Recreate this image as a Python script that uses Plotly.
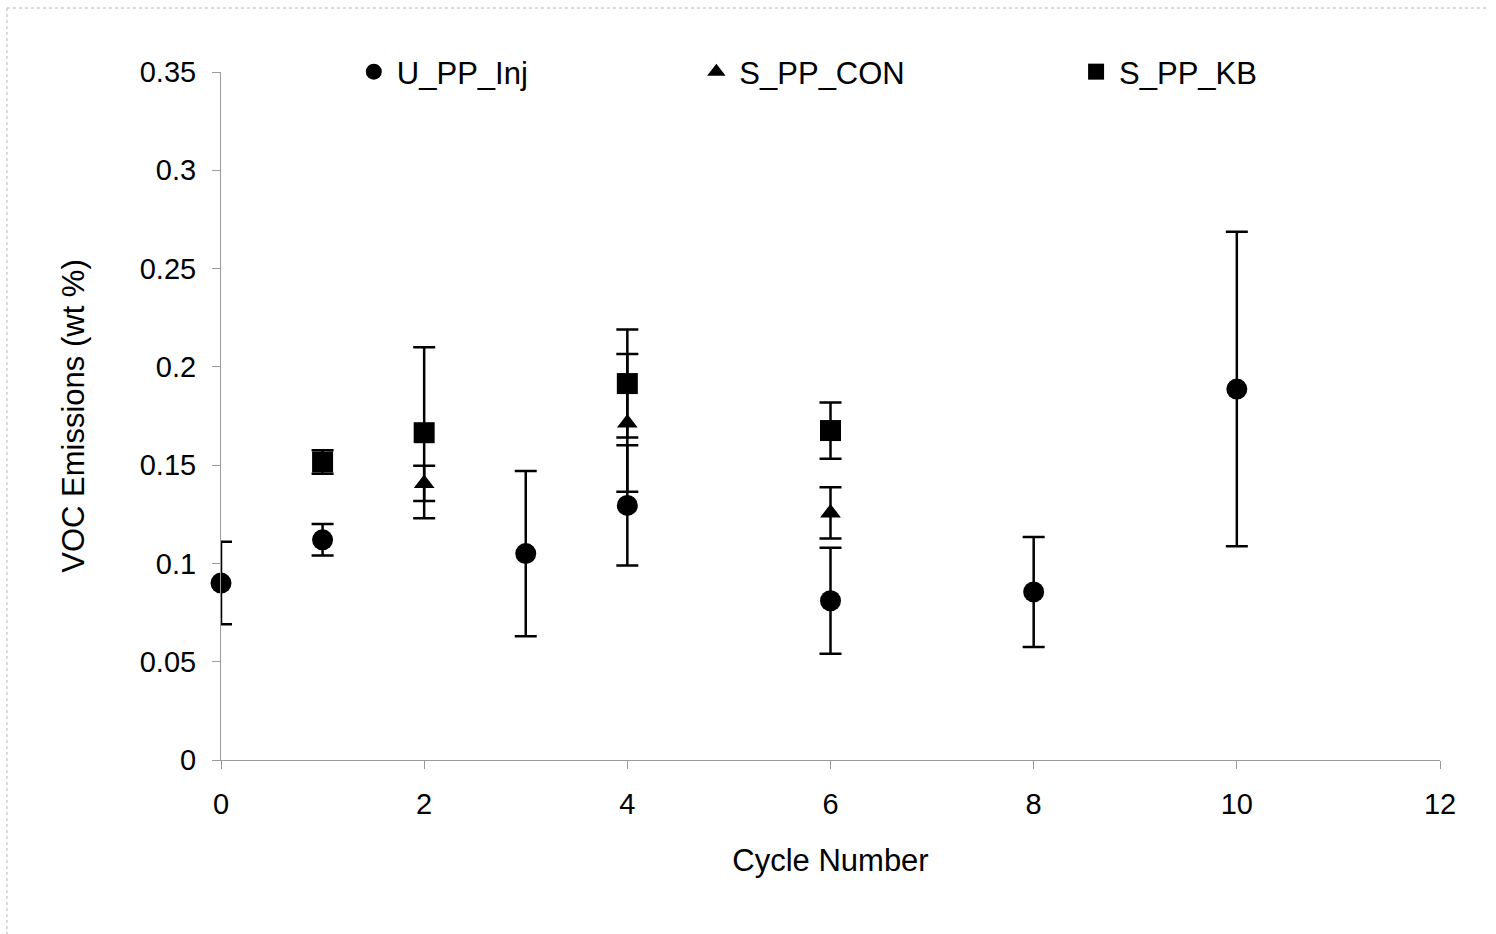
import plotly.graph_objects as go

# VOC emissions per processing cycle (mean ± error)
inj_cycle = [0, 1, 3, 4, 6, 8, 10]
inj_voc = [0.090, 0.112, 0.105, 0.1295, 0.081, 0.0855, 0.1887]
inj_err = [0.021, 0.008, 0.042, 0.0306, 0.027, 0.028, 0.080]

con_cycle = [2, 4, 6]
con_voc = [0.1407, 0.1715, 0.1257]
con_err = [0.009, 0.035, 0.013]

kb_cycle = [1, 2, 4, 6]
kb_voc = [0.1516, 0.1665, 0.1915, 0.1676]
kb_err = [0.006, 0.0435, 0.0275, 0.0143]

x_ticks = [0, 2, 4, 6, 8, 10, 12]
y_ticks = [0, 0.05, 0.1, 0.15, 0.2, 0.25, 0.3, 0.35]

FONT = "Liberation Sans, Arial, sans-serif"
AXIS_GREY = "#9a9a9a"

def err_bar(vals):
    return dict(type="data", array=vals, visible=True, color="black",
                thickness=2.5, width=11)

fig = go.Figure()
fig.add_trace(go.Scatter(x=inj_cycle, y=inj_voc, mode="markers", name="U_PP_Inj",
                         marker=dict(symbol="circle", size=21, color="black"),
                         error_y=err_bar(inj_err), legend="legend", cliponaxis=False))
fig.add_trace(go.Scatter(x=con_cycle, y=con_voc, mode="markers", name="S_PP_CON",
                         marker=dict(symbol="triangle-up", size=18, color="black"),
                         error_y=err_bar(con_err), legend="legend2", cliponaxis=False))
fig.add_trace(go.Scatter(x=kb_cycle, y=kb_voc, mode="markers", name="S_PP_KB",
                         marker=dict(symbol="square", size=21, color="black"),
                         error_y=err_bar(kb_err), legend="legend3", cliponaxis=False))

legend_style = dict(font=dict(family=FONT, size=31, color="black"),
                    bgcolor="rgba(0,0,0,0)", borderwidth=0, itemwidth=36,
                    xanchor="left", yanchor="middle", y=1.0)

fig.update_layout(
    width=1496, height=934,
    margin=dict(l=221, r=56, t=72, b=174),
    paper_bgcolor="white", plot_bgcolor="white",
    font=dict(family=FONT, size=29, color="black"),
    showlegend=True,
    legend=dict(x=0.1065, **legend_style),
    legend2=dict(x=0.3875, **legend_style),
    legend3=dict(x=0.699, **legend_style),
    xaxis=dict(range=[0, 12], tickvals=x_ticks, showgrid=False, zeroline=False,
               showline=True, linecolor=AXIS_GREY, linewidth=1,
               ticks="outside", ticklen=8, tickcolor=AXIS_GREY,
               ticklabelstandoff=10, tickfont=dict(size=29),
               title=dict(text="Cycle Number", font=dict(size=31), standoff=30)),
    yaxis=dict(range=[0, 0.35], tickvals=y_ticks, showgrid=False, zeroline=False,
               showline=True, linecolor=AXIS_GREY, linewidth=1,
               ticks="outside", ticklen=8, tickcolor=AXIS_GREY,
               ticklabelstandoff=10, tickfont=dict(size=29),
               title=dict(text="VOC Emissions (wt %)", font=dict(size=31), standoff=45)),
)

# Light dotted frame along the top and left edges of the figure
frame = dict(color="#b5b5b5", width=1, dash="dot")
fig.add_shape(type="line", xref="paper", yref="paper",
              x0=-0.1756, x1=1.04, y0=1.093, y1=1.093, line=frame)
fig.add_shape(type="line", xref="paper", yref="paper",
              x0=-0.1756, x1=-0.1756, y0=1.093, y1=-0.253, line=frame)

fig.write_html("out.html")
